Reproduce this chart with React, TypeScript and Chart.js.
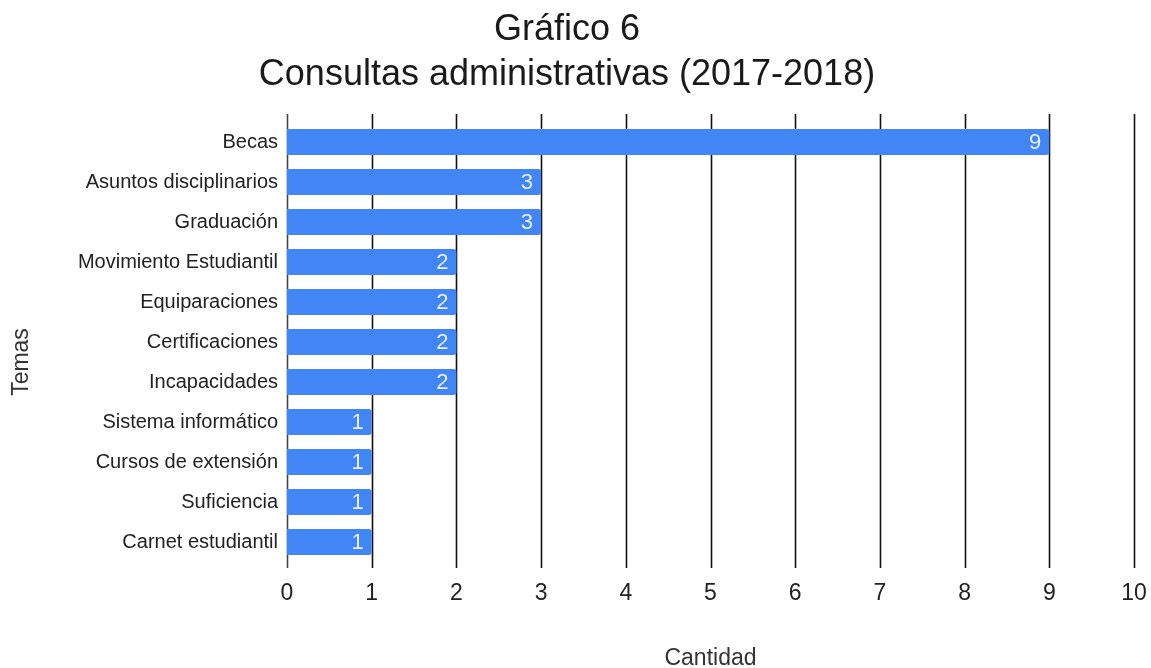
import React, { useEffect, useRef } from "react";
import { Chart, registerables } from "chart.js";

Chart.register(...registerables);

const categories = [
  "Becas",
  "Asuntos disciplinarios",
  "Graduación",
  "Movimiento Estudiantil",
  "Equiparaciones",
  "Certificaciones",
  "Incapacidades",
  "Sistema informático",
  "Cursos de extensión",
  "Suficiencia",
  "Carnet estudiantil",
];
const cantidades = [9, 3, 3, 2, 2, 2, 2, 1, 1, 1, 1];
const xTicks = [0, 1, 2, 3, 4, 5, 6, 7, 8, 9, 10];
const titleLines = ["Gráfico 6", "Consultas administrativas (2017-2018)"];
const xTitle = "Cantidad";
const yTitle = "Temas";

const FONT = "'Liberation Sans', Arial, Helvetica, sans-serif";

const gridPlugin = {
  id: "customGrid",
  beforeDatasetsDraw(chart: any) {
    const { ctx, chartArea, scales } = chart;
    const x = scales.x;
    ctx.save();
    xTicks.forEach((v) => {
      const px = Math.round(x.getPixelForValue(v)) + 0.5;
      ctx.beginPath();
      ctx.strokeStyle = v === 0 ? "#444" : "#111";
      ctx.lineWidth = 1.6;
      ctx.moveTo(px, chartArea.top - 8);
      ctx.lineTo(px, chartArea.bottom + 6);
      ctx.stroke();
    });
    ctx.restore();
  },
};

const labelPlugin = {
  id: "barLabels",
  afterDatasetsDraw(chart: any) {
    const { ctx } = chart;
    const meta = chart.getDatasetMeta(0);
    ctx.save();
    ctx.font = `22px ${FONT}`;
    ctx.fillStyle = "rgba(255,255,255,0.88)";
    ctx.textAlign = "right";
    ctx.textBaseline = "middle";
    meta.data.forEach((bar: any, i: number) => {
      ctx.fillText(String(cantidades[i]), bar.x - 8, bar.y + 1);
    });
    // y-axis title
    ctx.font = `23px ${FONT}`;
    ctx.fillStyle = "#333";
    ctx.textAlign = "center";
    ctx.translate(22, 362);
    ctx.rotate(-Math.PI / 2);
    ctx.fillText(yTitle, 0, 0);
    ctx.restore();
  },
};

export default function App() {
  const ref = useRef<HTMLCanvasElement>(null);
  useEffect(() => {
    document.body.style.margin = "0";
    const chart = new Chart(ref.current!, {
      type: "bar",
      data: {
        labels: categories,
        datasets: [
          {
            data: cantidades,
            backgroundColor: "#4285F4",
            borderRadius: 3,
            borderSkipped: "start",
            categoryPercentage: 1,
            barPercentage: 0.65,
          },
        ],
      },
      options: {
        indexAxis: "y",
        animation: false,
        responsive: false,
        layout: { padding: { left: 0, right: 17, top: 0, bottom: 0 } },
        plugins: {
          legend: { display: false },
          tooltip: { enabled: false },
          title: {
            display: true,
            text: titleLines,
            color: "#1a1a1a",
            font: { family: FONT, size: 36, weight: "normal", lineHeight: 1.25 },
            padding: { top: 8, bottom: 24 },
          },
        },
        scales: {
          x: {
            min: 0,
            max: 10,
            ticks: {
              stepSize: 1,
              color: "#222",
              font: { family: FONT, size: 23 },
              padding: 18,
            },
            grid: { display: false, drawTicks: false },
            border: { display: false },
            title: {
              display: true,
              text: xTitle,
              color: "#333",
              font: { family: FONT, size: 23, lineHeight: 1 },
              padding: { top: 0, bottom: -2 },
            },
            afterFit(scale: any) {
              scale.height = 106;
              scale.paddingRight = 0;
              scale.paddingLeft = 0;
            },
          },
          y: {
            ticks: {
              color: "#222",
              font: { family: FONT, size: 20 },
              padding: 9,
            },
            grid: { display: false, drawTicks: false },
            border: { display: false },
            afterFit(scale: any) {
              scale.width = 287;
            },
          },
        },
      },
      plugins: [gridPlugin, labelPlugin],
    });
    return () => chart.destroy();
  }, []);
  return (
    <div style={{ position: "fixed", left: 0, top: 0, width: 1151, height: 668, background: "#fff" }}>
      <canvas ref={ref} width={1151} height={668} />
    </div>
  );
}
